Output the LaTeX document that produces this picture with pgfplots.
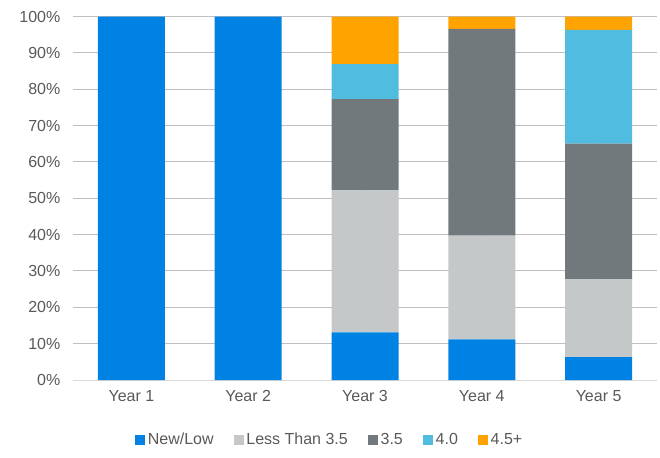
\documentclass[border=0pt]{standalone}
\usepackage{pgfplots}
\pgfplotsset{compat=1.18}
\usepackage{fontspec}
\setmainfont{Liberation Sans}
\definecolor{cNew}{HTML}{0082E4}
\definecolor{cLT}{HTML}{C5C8C9}
\definecolor{cTF}{HTML}{72797C}
\definecolor{cF}{HTML}{4FBCE0}
\definecolor{cFF}{HTML}{FFA300}
\definecolor{txt}{HTML}{595959}
\definecolor{grid}{HTML}{D9D9D9}
\begin{document}
\begin{tikzpicture}
\path[use as bounding box] (-54.75pt,-57.75pt) rectangle (440.25pt,285pt);
\begin{axis}[
  at={(0pt,0pt)}, anchor=south west,
  scale only axis, width=438pt, height=272.6pt,
  ybar stacked, bar width=50.25pt,
  xmin=-0.5, xmax=4.5, ymin=0, ymax=100,
  xtick={0,1,2,3,4},
  xticklabels={Year 1,Year 2,Year 3,Year 4,Year 5},
  ytick={0,10,...,100},
  yticklabel={\pgfmathprintnumber{\tick}\%},
  /pgf/number format/assume math mode=true,
  ymajorgrids, grid style={grid, line width=0.75pt},
  axis x line*=bottom, axis y line*=left,
  y axis line style={draw=none},
  x axis line style={grid, line width=0.75pt},
  major tick length=0pt,
  tick label style={font=\fontsize{12pt}{14pt}\selectfont, text=txt},
  yticklabel style={xshift=-6pt},
  xticklabel style={yshift=-4pt},
  legend style={at={(192.75pt,-45pt)}, anchor=center, draw=none, fill=none,
    legend columns=-1, font=\fontsize{12pt}{14pt}\selectfont, text=txt,
    /tikz/every even column/.append style={column sep=13pt}},
  legend image code/.code={\fill[#1] (0pt,-3.8pt) rectangle (7.6pt,3.8pt);},
  legend cell align=left,
]
\addplot[fill=cNew, draw=none] coordinates {(0,100) (1,100) (2,13.1) (3,11.2) (4,6.3)};
\addplot[fill=cLT, draw=none] coordinates {(0,0) (1,0) (2,39.1) (3,28.5) (4,21.4)};
\addplot[fill=cTF, draw=none] coordinates {(0,0) (1,0) (2,25.1) (3,56.9) (4,37.3)};
\addplot[fill=cF, draw=none] coordinates {(0,0) (1,0) (2,9.6) (3,0) (4,31.3)};
\addplot[fill=cFF, draw=none] coordinates {(0,0) (1,0) (2,13.1) (3,3.4) (4,3.7)};
\legend{New/Low, Less Than 3.5, 3.5, 4.0, 4.5+}
\end{axis}
\end{tikzpicture}
\end{document}
